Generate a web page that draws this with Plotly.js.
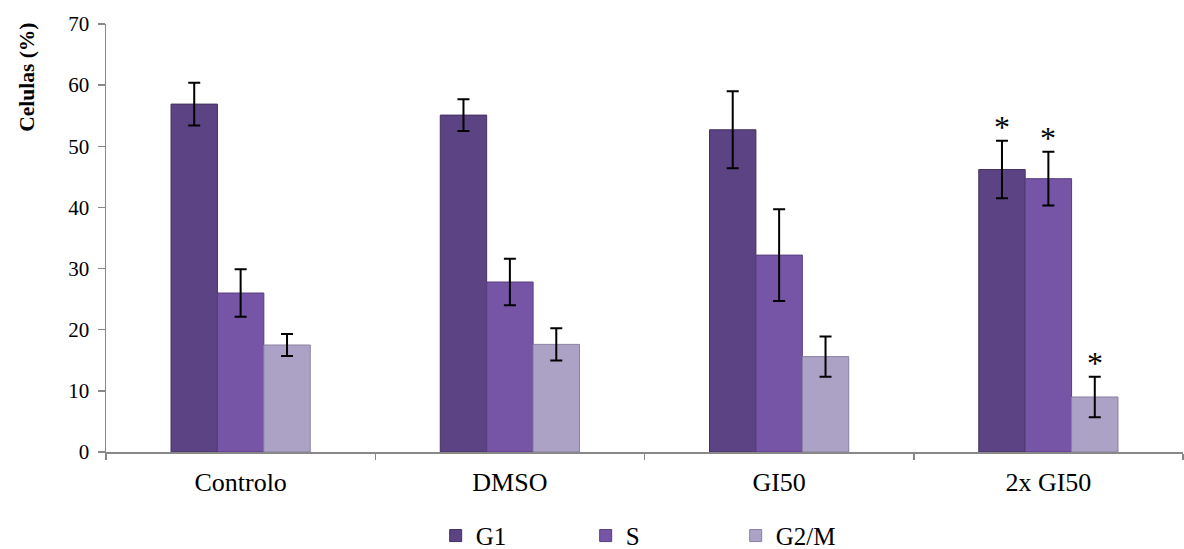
<!DOCTYPE html>
<html>
<head>
<meta charset="utf-8">
<script src="https://cdn.plot.ly/plotly-3.0.1.min.js"></script>
<style>html,body{margin:0;padding:0;background:#fff}#chart{width:1184px;height:549px}</style>
</head>
<body>
<div id="chart"></div>
<script>
const categories = ["Controlo", "DMSO", "GI50", "2x GI50"];
const seriesNames = ["G1", "S", "G2/M"];
const g1Values = [56.9, 55.1, 52.7, 46.2];
const g1Errors = [3.5, 2.6, 6.3, 4.7];
const sValues = [26.0, 27.8, 32.2, 44.7];
const sErrors = [3.9, 3.8, 7.5, 4.4];
const g2mValues = [17.5, 17.6, 15.6, 9.0];
const g2mErrors = [1.8, 2.65, 3.3, 3.3];
// significance marks: [series index, category index]
const significance = [[0, 3], [1, 3], [2, 3]];

const colors = ["#5c4484", "#7655a7", "#aca2c6"];
const edge = ["#45305f", "#573d7c", "#8a809f"];
const values = [g1Values, sValues, g2mValues];
const errors = [g1Errors, sErrors, g2mErrors];
const bargap = 0.483;

const font = "'Liberation Serif', 'Times New Roman', serif";

const traces = seriesNames.map((name, k) => ({
  type: "bar",
  name: name,
  x: categories,
  y: values[k],
  marker: {color: colors[k], line: {color: edge[k], width: 1}},
  error_y: {type: "data", array: errors[k], visible: true, color: "#000", thickness: 2, width: 6}
}));

const barW = (1 - bargap) / seriesNames.length;
const annotations = significance.map(([k, i]) => ({
  xref: "x", yref: "y",
  x: i + (k - (seriesNames.length - 1) / 2) * barW,
  y: values[k][i] + errors[k][i],
  text: "*", showarrow: false, yanchor: "bottom", yshift: -6,
  font: {family: font, size: 32, color: "#000"}
}));
annotations.push({
  xref: "paper", yref: "paper", x: -0.074, y: 0.875,
  xanchor: "center", yanchor: "middle", textangle: -90,
  text: "<b>Celulas (%)</b>", showarrow: false,
  font: {family: font, size: 21.5, color: "#000"}
});

const layout = {
  width: 1184, height: 549,
  margin: {l: 106, r: 1, t: 24, b: 97},
  paper_bgcolor: "#fff", plot_bgcolor: "#fff",
  barmode: "group", bargap: bargap, bargroupgap: 0,
  font: {family: font, size: 20, color: "#000"},
  showlegend: true,
  legend: {orientation: "h", xref: "container", yref: "container",
           x: 0.558, xanchor: "center", y: 0.024, yanchor: "middle",
           entrywidth: 105, entrywidthmode: "pixels", itemwidth: 30,
           font: {family: font, size: 25, color: "#000"}},
  xaxis: {type: "category", showline: true, linecolor: "#888", linewidth: 2,
          ticks: "outside", tickson: "boundaries", ticklen: 6, tickcolor: "#888", tickwidth: 1.5,
          showgrid: false, zeroline: false, automargin: false,
          tickfont: {family: font, size: 26, color: "#000"}, ticklabelstandoff: 6},
  yaxis: {range: [0, 70], dtick: 10, showline: true, linecolor: "#888", linewidth: 1.5,
          ticks: "outside", ticklen: 7, tickcolor: "#888", tickwidth: 1.5,
          showgrid: false, zeroline: false, automargin: false,
          tickfont: {family: font, size: 21, color: "#000"}, ticklabelstandoff: 4},
  annotations: annotations
};

Plotly.newPlot("chart", traces, layout, {displayModeBar: false, staticPlot: true});
</script>
</body>
</html>
